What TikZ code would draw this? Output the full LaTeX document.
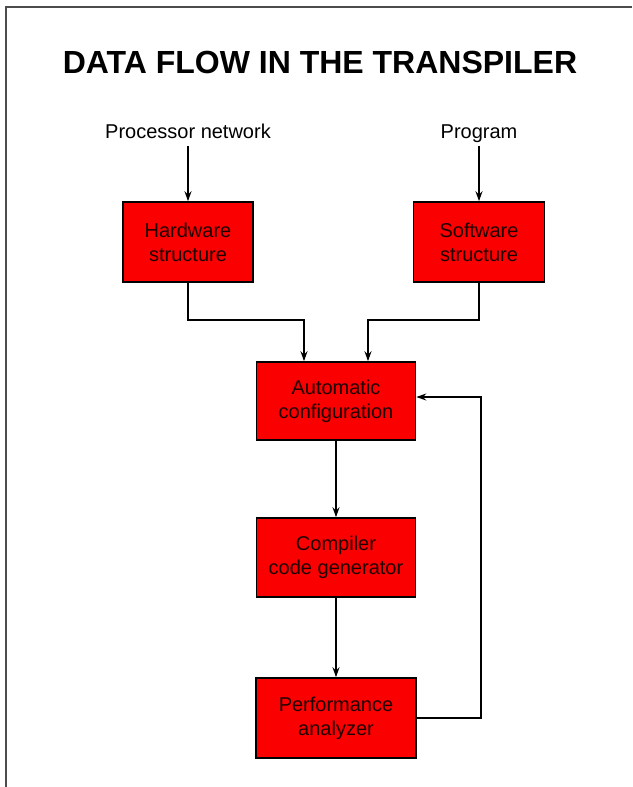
\documentclass[tikz,border=0pt]{standalone}
\usepackage{fontspec}
\setmainfont{Liberation Sans}
\usetikzlibrary{arrows.meta}
\definecolor{boxred}{RGB}{250,0,0}
\definecolor{boxtext}{RGB}{30,0,0}
\begin{document}
\begin{tikzpicture}[x=1pt,y=-1pt,
  stagebox/.style={draw=black,line width=1.6pt,fill=boxred,align=center,
    font=\fontsize{20}{24}\selectfont,text=boxtext,inner sep=0pt},
  lbl/.style={font=\fontsize{20}{24}\selectfont,inner sep=0pt,anchor=base},
  arr/.style={line width=1.6pt,-{Stealth[length=10pt,width=7pt]}}]
\useasboundingbox (0,0) rectangle (632,787);
\draw[line width=1.2pt,black!70] (632,7) -- (6,7) -- (6,787);
\node[font=\bfseries\fontsize{32}{36}\selectfont] (title) at (320,62) {DATA FLOW IN THE TRANSPILER};
\node[lbl] (pn) at (188,138) {Processor network};
\node[lbl] (pg) at (479,138) {Program};
\node[stagebox,minimum width=130pt,minimum height=80pt] (hw) at (188,242) {Hardware\\structure};
\node[stagebox,minimum width=131pt,minimum height=80pt] (sw) at (479,242) {Software\\structure};
\node[stagebox,minimum width=159pt,minimum height=78pt] (ac) at (336,401) {Automatic\\configuration};
\node[stagebox,minimum width=159pt,minimum height=79pt] (cg) at (336,557.5) {Compiler\\code generator};
\node[stagebox,minimum width=160pt,minimum height=80pt] (pa) at (336,718) {Performance\\analyzer};
\coordinate (s1) at (188,146);
\coordinate (s2) at (479,146);
\coordinate (m1) at (304,320);
\coordinate (m2) at (368,320);
\coordinate (fb) at (481,397);
\draw[arr] (s1) -- (hw.north);
\draw[arr] (s2) -- (sw.north);
\draw[arr] (hw.south) -- (hw.south |- m1) -- (m1) -- (m1 |- ac.north);
\draw[arr] (sw.south) -- (sw.south |- m2) -- (m2) -- (m2 |- ac.north);
\draw[arr] (ac.south) -- (cg.north);
\draw[arr] (cg.south) -- (pa.north);
\draw[arr] (pa.east) -| (fb) -- (fb -| ac.east);
\end{tikzpicture}
\end{document}
